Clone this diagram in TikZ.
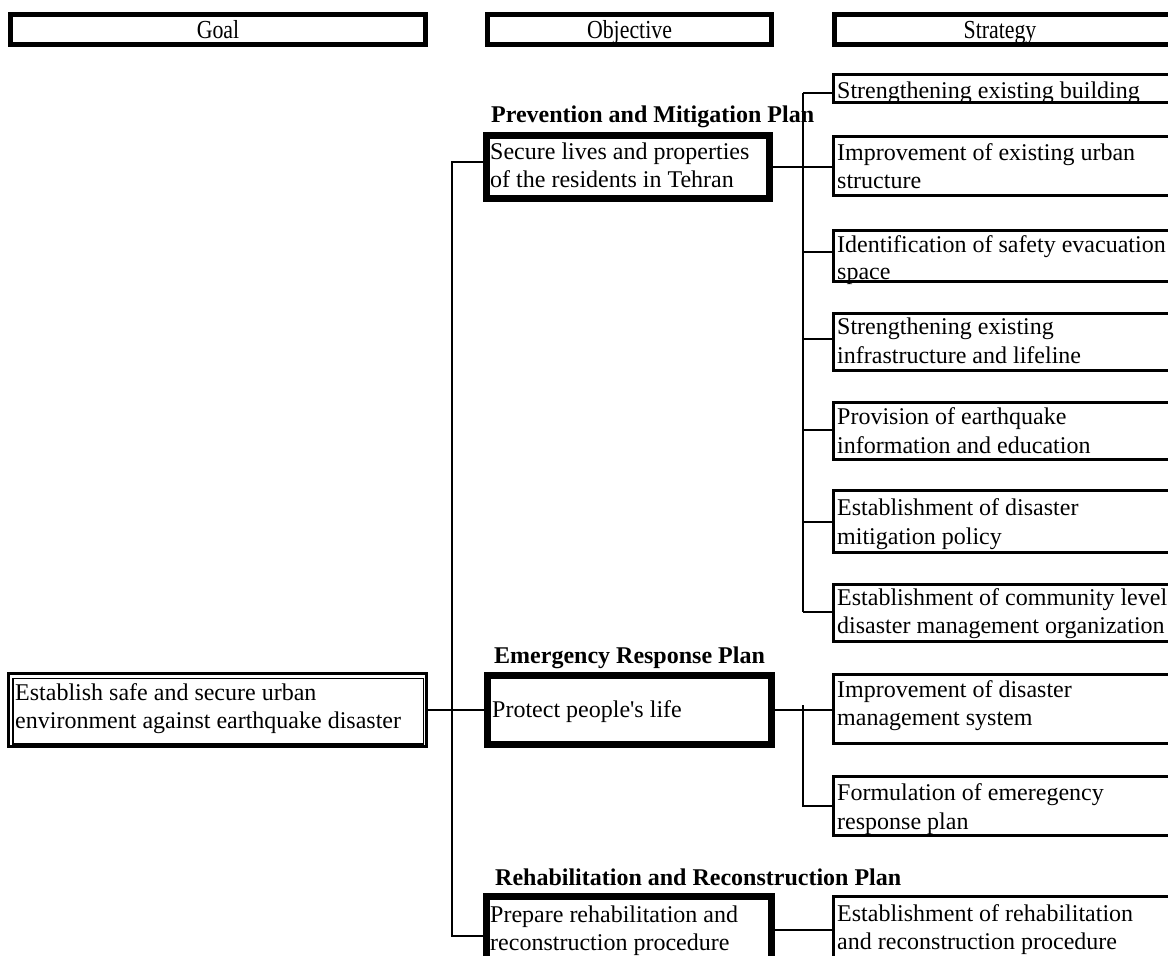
\documentclass[tikz,border=0pt]{standalone}
\usepackage{fontspec}
\setmainfont{Liberation Serif}
\newfontfamily\hdrfont[FakeStretch=0.84]{Liberation Serif}
\begin{document}
\begin{tikzpicture}[x=1pt,y=-1pt,
  conn/.style={line width=1.3pt},
  framebox/.style={draw, rectangle, inner sep=0pt, outer sep=0pt, anchor=north west},
  hdrbox/.style={framebox, line width=5pt},
  objbox/.style={framebox, line width=7pt},
  stratbox/.style={framebox, line width=3pt, minimum width=350pt},
  goalouter/.style={framebox, line width=3pt},
  goalinner/.style={framebox, line width=1.3pt},
  txt/.style={inner sep=0pt, anchor=base west, font=\fontsize{24}{28}\selectfont},
  ttl/.style={inner sep=0pt, anchor=base west, font=\bfseries\fontsize{24}{28}\selectfont},
  hdr/.style={inner sep=0pt, anchor=base, font=\hdrfont\fontsize{26}{30}\selectfont},
]
\useasboundingbox (0,0) rectangle (1168,956);
\clip (0,0) rectangle (1168,956);

% column headers
\node[hdrbox, minimum width=415pt, minimum height=30pt] (hg) at (10.5,14.5) {};
\node[hdrbox, minimum width=284pt, minimum height=30pt] (ho) at (487.5,14.5) {};
\node[hdrbox, minimum width=350pt, minimum height=30pt] (hs) at (834.5,14.5) {};
\node[hdr] (hgt) at (218,38) {Goal};
\node[hdr] (hot) at (629.5,38) {Objective};
\node[hdr] (hst) at (1000,38) {Strategy};

% goal
\node[goalouter, minimum width=418pt, minimum height=73pt] (g) at (8.5,673.5) {};
\node[goalinner, minimum width=410.5pt, minimum height=65.7pt] (gi) at (13,678.3) {};
\node[txt] (gt1) at (15,700) {Establish safe and secure urban};
\node[txt] (gt2) at (15,728) {environment against earthquake disaster};

% objectives
\node[ttl] (tt1) at (491,122) {Prevention and Mitigation Plan};
\node[objbox, minimum width=283pt, minimum height=63pt] (o1) at (486.5,135.5) {};
\node[txt] (o1a) at (490,159) {Secure lives and properties};
\node[txt] (o1b) at (490,187) {of the residents in Tehran};

\node[ttl] (tt2) at (494,663) {Emergency Response Plan};
\node[objbox, minimum width=284pt, minimum height=69pt] (o2) at (487.5,675.5) {};
\node[txt] (o2a) at (492,717) {Protect people\textquotesingle s life};

\node[ttl] (tt3) at (495,885) {Rehabilitation and Reconstruction Plan};
\node[objbox, minimum width=285pt, minimum height=80pt] (o3) at (486.5,896.5) {};
\node[txt] (o3a) at (490,922) {Prepare rehabilitation and};
\node[txt] (o3b) at (490,950) {reconstruction procedure};

% strategies
\node[stratbox, minimum height=28pt] (s1) at (833.5,74.5) {};
\node[txt] (s1a) at (837,98) {Strengthening existing building};

\node[stratbox, minimum height=59pt] (s2) at (833.5,136.5) {};
\node[txt] (s2a) at (837,160) {Improvement of existing urban};
\node[txt] (s2b) at (837,188) {structure};

\node[stratbox, minimum height=51pt] (s3) at (833.5,230.5) {};
\node[txt] (s3a) at (837,252) {Identification of safety evacuation};
\node[txt] (s3b) at (837,279) {space};

\node[stratbox, minimum height=57pt] (s4) at (833.5,313.5) {};
\node[txt] (s4a) at (837,334) {Strengthening existing};
\node[txt] (s4b) at (837,363) {infrastructure and lifeline};

\node[stratbox, minimum height=57pt] (s5) at (833.5,402.5) {};
\node[txt] (s5a) at (837,424) {Provision of earthquake};
\node[txt] (s5b) at (837,453) {information and education};

\node[stratbox, minimum height=62pt] (s6) at (833.5,490.5) {};
\node[txt] (s6a) at (837,515) {Establishment of disaster};
\node[txt] (s6b) at (837,544) {mitigation policy};

\node[stratbox, minimum height=57pt] (s7) at (833.5,584.5) {};
\node[txt] (s7a) at (837,605) {Establishment of community level};
\node[txt] (s7b) at (837,633) {disaster management organization};

\node[stratbox, minimum height=69pt] (s8) at (833.5,674.5) {};
\node[txt] (s8a) at (837,697) {Improvement of disaster};
\node[txt] (s8b) at (837,725) {management system};

\node[stratbox, minimum height=59pt] (s9) at (833.5,776.5) {};
\node[txt] (s9a) at (837,800) {Formulation of emeregency};
\node[txt] (s9b) at (837,829) {response plan};

\node[stratbox, minimum height=80pt] (s10) at (833.5,896.5) {};
\node[txt] (s10a) at (837,921) {Establishment of rehabilitation};
\node[txt] (s10b) at (837,949) {and reconstruction procedure};

% goal to objectives
\coordinate (lj1) at (452,162);
\coordinate (lj3) at (452,936);
\draw[conn] (g.east) -- (o2.west);
\draw[conn] (o1.west |- lj1) -- (lj1) -- (lj3) -- (lj3 -| o3.west);

% prevention strategies
\coordinate (b1) at (803,93);
\coordinate (b3) at (803,252);
\coordinate (b4) at (803,339);
\coordinate (b5) at (803,430);
\coordinate (b6) at (803,522);
\coordinate (b7) at (803,612);
\draw[conn] (b1) -- (b7);
\draw[conn] (o1.east) -- (o1.east -| s2.west);
\draw[conn] (b1) -- (b1 -| s1.west);
\draw[conn] (b3) -- (b3 -| s3.west);
\draw[conn] (b4) -- (b4 -| s4.west);
\draw[conn] (b5) -- (b5 -| s5.west);
\draw[conn] (b6) -- (b6 -| s6.west);
\draw[conn] (b7) -- (b7 -| s7.west);

% emergency strategies
\coordinate (e1) at (803,705);
\coordinate (e2) at (803,806);
\draw[conn] (o2.east) -- (o2.east -| s8.west);
\draw[conn] (e1) -- (e2) -- (e2 -| s9.west);

% rehabilitation strategy
\coordinate (r1) at (0,930);
\draw[conn] (o3.east |- r1) -- (s10.west |- r1);
\end{tikzpicture}
\end{document}
